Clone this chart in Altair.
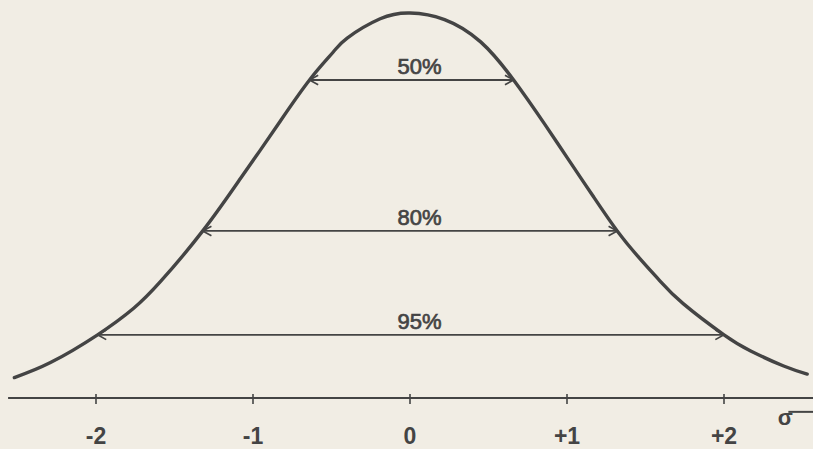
import altair as alt
import pandas as pd

# Bell curve traced in standard-deviation units (x) and relative height (y, peak = 1)
curve_sigma = [-2.52, -2.29, -1.99, -1.76, -1.59, -1.32, -1.08, -0.96, -0.83, -0.64,
               -0.49, -0.40, -0.19, 0.00, 0.22, 0.45, 0.66, 0.86, 1.00, 1.17,
               1.32, 1.46, 1.59, 1.74, 2.00, 2.17, 2.38, 2.53]
curve_height = [0.053, 0.092, 0.164, 0.233, 0.302, 0.434, 0.570, 0.640, 0.717, 0.826,
                0.898, 0.935, 0.985, 1.000, 0.983, 0.925, 0.826, 0.710, 0.625, 0.522,
                0.434, 0.364, 0.305, 0.245, 0.164, 0.122, 0.083, 0.062]

# Central intervals: share of the population, bounds in sigma, height of the arrow
interval_labels = ["50%", "80%", "95%"]
interval_low = [-0.64, -1.32, -1.99]
interval_high = [0.66, 1.32, 2.00]
interval_height = [0.826, 0.434, 0.164]

# Axis ticks
tick_values = [-2, -1, 0, 1, 2]
tick_labels = ["-2", "-1", "0", "+1", "+2"]

INK = "#444444"
PAPER = "#f1ede4"

x_scale = alt.Scale(domain=[-410 / 157, 403 / 157], nice=False, zero=False)
y_scale = alt.Scale(domain=[-51 / 385, 398 / 385], nice=False, zero=False)
X = lambda f: alt.X(f, type="quantitative", scale=x_scale, axis=None)
Y = lambda f: alt.Y(f, type="quantitative", scale=y_scale, axis=None)

curve_df = pd.DataFrame({"s": curve_sigma, "h": curve_height})
iv_df = pd.DataFrame({"label": interval_labels, "lo": interval_low,
                      "hi": interval_high, "h": interval_height})
tick_df = pd.DataFrame({"t": tick_values, "label": tick_labels})

curve = alt.Chart(curve_df).mark_line(
    color=INK, strokeWidth=3.4, interpolate="natural", strokeCap="round"
).encode(x=X("s"), y=Y("h"))

arrows = alt.Chart(iv_df).mark_rule(color=INK, strokeWidth=1.8).encode(
    x=X("lo"), x2="hi", y=Y("h"))

head_left = alt.Chart(iv_df).mark_point(
    shape="M 1 -0.55 L 0 0 L 1 0.55", filled=False, color=INK, size=300,
    strokeWidth=1.7, opacity=1
).encode(x=X("lo"), y=Y("h"))

head_right = alt.Chart(iv_df).mark_point(
    shape="M -1 -0.55 L 0 0 L -1 0.55", filled=False, color=INK, size=300,
    strokeWidth=1.7, opacity=1
).encode(x=X("hi"), y=Y("h"))

pct_text = alt.Chart(iv_df).transform_calculate(mid="0.06").mark_text(
    font="Liberation Sans", fontSize=22, color=INK, baseline="alphabetic",
    align="center", dy=-6, stroke=INK, strokeWidth=0.7
).encode(x=X("mid"), y=Y("h"), text="label:N")

axis_line = alt.Chart(pd.DataFrame({"a": [-2.56], "b": [2.6], "h": [0.0]})).mark_rule(
    color=INK, strokeWidth=2
).encode(x=X("a"), x2="b", y=Y("h"))

ticks = alt.Chart(tick_df).transform_calculate(lo="-0.0156", hi="0.0104").mark_rule(
    color=INK, strokeWidth=1.6
).encode(x=X("t"), y=Y("lo"), y2="hi")

tick_text = alt.Chart(tick_df).transform_calculate(h="-0.1325").mark_text(
    font="Liberation Sans", fontSize=23, fontWeight="bold", color=INK,
    baseline="bottom", align="center"
).encode(x=X("t"), y=Y("h"), text="label:N")

sigma_text = alt.Chart(pd.DataFrame({"s": [2.39], "h": [-0.052], "label": ["σ"]})).mark_text(
    font="Liberation Sans", fontSize=22, fontWeight="bold", color=INK,
    baseline="middle", align="center"
).encode(x=X("s"), y=Y("h"), text="label:N")

sigma_bar = alt.Chart(pd.DataFrame({"a": [2.41], "b": [2.6], "h": [-0.036]})).mark_rule(
    color=INK, strokeWidth=2
).encode(x=X("a"), x2="b", y=Y("h"))

chart = alt.layer(
    axis_line, ticks, tick_text, sigma_bar, sigma_text,
    arrows, head_left, head_right, pct_text, curve
).properties(
    width=813, height=449, padding=0, autosize=alt.AutoSizeParams(type="none"),
    background=PAPER
).configure_view(stroke=None)

chart.save("out.html", embed_options={"renderer": "svg", "actions": False})
